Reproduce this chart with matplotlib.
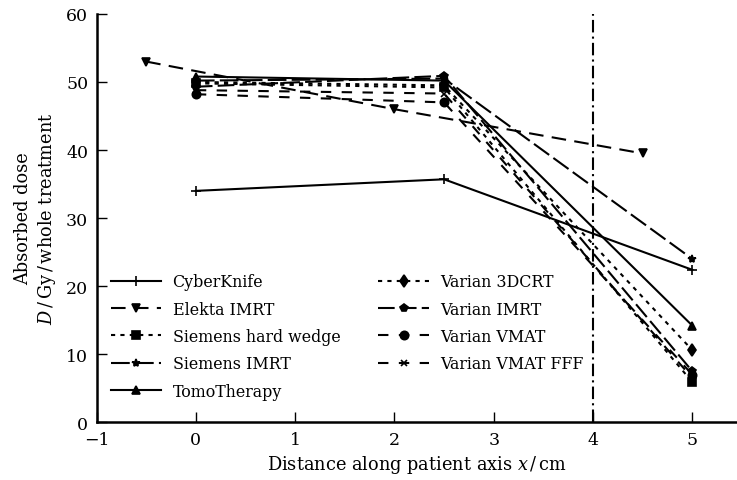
import matplotlib
matplotlib.use("Agg")
import matplotlib.pyplot as plt

plt.rcParams['font.family'] = ['DejaVu Serif']
plt.rcParams['mathtext.fontset'] = 'dejavuserif'
plt.rcParams['font.size'] = 12

# dose along patient axis, per machine / technique
x_common = [0, 2.5, 5]
cyberknife = [34.0, 35.7, 22.4]
tomotherapy = [50.8, 50.2, 14.2]
siemens_wedge = [49.8, 49.2, 5.9]
siemens_imrt = [50.2, 50.5, 24.0]
varian_3dcrt = [50.0, 49.5, 10.6]
varian_imrt = [49.3, 50.9, 7.5]
varian_vmat = [48.2, 47.0, 7.0]
varian_vmat_fff = [48.8, 48.3, 6.5]

x_elekta = [-0.5, 2, 4.5]
elekta_imrt = [53.0, 46.0, 39.5]

xticks = [-1, 0, 1, 2, 3, 4, 5]
yticks = [0, 10, 20, 30, 40, 50, 60]

series = [
    ("CyberKnife", x_common, cyberknife, '-', '+', 7),
    ("Elekta IMRT", x_elekta, elekta_imrt, (0, (7, 4)), 'v', 6),
    ("Siemens hard wedge", x_common, siemens_wedge, (0, (2, 2.5)), 's', 5.5),
    ("Siemens IMRT", x_common, siemens_imrt, (0, (9, 2.5)), '*', 6),
    ("TomoTherapy", x_common, tomotherapy, '-', '^', 6),
    ("Varian 3DCRT", x_common, varian_3dcrt, (0, (2, 2.5)), 'd', 6),
    ("Varian IMRT", x_common, varian_imrt, (0, (8, 2.5)), 'p', 6),
    ("Varian VMAT", x_common, varian_vmat, (0, (5, 5)), 'o', 6),
    ("Varian VMAT FFF", x_common, varian_vmat_fff, (0, (5, 5)), 'x', 5),
]

fig = plt.figure(figsize=(7.37, 4.81), dpi=100)
ax = fig.add_axes([0.131, 0.12, 0.869, 0.849])

for label, xs, ys, ls, mk, ms in series:
    ax.plot(xs, ys, color='black', linestyle=ls, linewidth=1.5, marker=mk,
            markersize=ms, markeredgewidth=1.2, label=label)

ax.axvline(4, color='black', linestyle=(0, (6, 2, 1, 2)), linewidth=1.5)

ax.set_xlim(-1, 5.45)
ax.set_ylim(0, 60)
ax.set_xticks(xticks)
ax.set_yticks(yticks)
ax.set_xticklabels(['\u22121' if t < 0 else str(t) for t in xticks])
ax.tick_params(direction='in', length=7, width=1.0, top=False, right=False, pad=6,
               labelsize=12.5)

for side in ['top', 'right']:
    ax.spines[side].set_visible(False)
for side in ['left', 'bottom']:
    ax.spines[side].set_linewidth(1.8)

ax.set_xlabel(r'Distance along patient axis $x\,/\,\mathrm{cm}$', fontsize=12.8, labelpad=4)
ax.set_ylabel('Absorbed dose\n' + r'$D\,/\,\mathrm{Gy}\,/\,\mathrm{whole\ treatment}$',
              fontsize=12.8, labelpad=6)

ax.legend(loc='lower left', ncol=2, frameon=False, fontsize=11.4, handlelength=3.2,
          handletextpad=0.7, columnspacing=2.4, labelspacing=0.66,
          bbox_to_anchor=(0.0, 0.02))

plt.savefig('out.png', dpi=100)
